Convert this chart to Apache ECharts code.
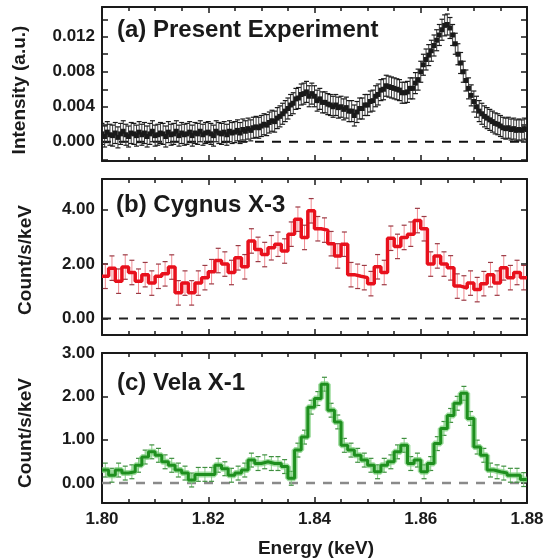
<!DOCTYPE html>
<html>
<head>
<meta charset="utf-8">
<script src="https://cdn.jsdelivr.net/npm/echarts@6/dist/echarts.min.js"></script>
<style>
html, body { margin: 0; padding: 0; background: #fff; }
#chart { width: 548px; height: 560px; }
</style>
</head>
<body>
<div id="chart"></div>
<script>
// energy range shared by the three panels (keV)
var energyMin = 1.80
var energyMax = 1.88
var energyStepA = 0.0005
var binWidth = 0.00125

// (a) present experiment, intensity (a.u.) every 0.5 eV from 1.800 keV
var intensityA = [
  0.0009, 0.0006, 0.0011, 0.0008, 0.0007, 0.0010, 0.0005, 0.0009, 0.0012, 0.0008,
  0.0006, 0.0010, 0.0009, 0.0007, 0.0011, 0.0008, 0.0010, 0.0006, 0.0009, 0.0012,
  0.0007, 0.0008, 0.0010, 0.0009, 0.0006, 0.0011, 0.0008, 0.0009, 0.0012, 0.0007,
  0.0010, 0.0008, 0.0009, 0.0011, 0.0007, 0.0010, 0.0009, 0.0012, 0.0008, 0.0010,
  0.0011, 0.0009, 0.0007, 0.0012, 0.0010, 0.0009, 0.0011, 0.0008, 0.0012, 0.0010,
  0.0011, 0.0013, 0.0010, 0.0014, 0.0012, 0.0015, 0.0013, 0.0016, 0.0017, 0.0016,
  0.0018, 0.0020, 0.0019, 0.0022, 0.0024, 0.0023, 0.0027, 0.0029, 0.0032, 0.0035,
  0.0038, 0.0042, 0.0044, 0.0049, 0.0050, 0.0054, 0.0055, 0.0057, 0.0052, 0.0055,
  0.0052, 0.0047, 0.0049, 0.0045, 0.0045, 0.0043, 0.0042, 0.0040, 0.0042, 0.0039,
  0.0040, 0.0037, 0.0039, 0.0035, 0.0035, 0.0030, 0.0034, 0.0038, 0.0038, 0.0042,
  0.0042, 0.0046, 0.0047, 0.0052, 0.0054, 0.0059, 0.0060, 0.0064, 0.0063, 0.0062,
  0.0061, 0.0060, 0.0059, 0.0056, 0.0056, 0.0057, 0.0061, 0.0061, 0.0067, 0.0071,
  0.0080, 0.0088, 0.0094, 0.0099, 0.0104, 0.0110, 0.0116, 0.0122, 0.0128, 0.0133,
  0.0134, 0.0130, 0.0122, 0.0112, 0.0100, 0.0090, 0.0080, 0.0070, 0.0061, 0.0053,
  0.0046, 0.0040, 0.0035, 0.0032, 0.0029, 0.0027, 0.0025, 0.0023, 0.0021, 0.0020,
  0.0018, 0.0016, 0.0015, 0.0016, 0.0014, 0.0015, 0.0013, 0.0014, 0.0013, 0.0015,
  0.0014
]
var errA = 0.0012

// (b) Cygnus X-3, counts/s/keV per bin
var cygnus = [
  1.55, 1.85, 1.37, 1.89, 1.69, 1.37, 1.61, 1.30, 1.55, 1.64, 1.89, 0.94, 1.30, 0.94, 1.30, 1.50,
  1.72, 2.13, 2.00, 1.69, 2.23, 1.90, 2.85, 2.54, 2.35, 2.60, 2.73, 2.48, 3.10, 3.65, 2.98, 3.96,
  3.30, 3.25, 2.75, 2.30, 2.73, 1.61, 1.55, 1.50, 1.28, 1.90, 1.69, 2.95, 2.65, 2.98, 3.10, 3.60,
  3.30, 2.00, 2.30, 2.00, 1.86, 1.19, 1.12, 1.30, 1.06, 1.28, 1.61, 1.30, 1.86, 1.50, 1.69, 1.50
]
var errB = 0.45

// (c) Vela X-1, counts/s/keV per bin
var vela = [
  0.30, 0.18, 0.30, 0.23, 0.26, 0.41, 0.60, 0.72, 0.64, 0.49, 0.41, 0.30, 0.23, 0.07, 0.20, 0.20,
  0.20, 0.41, 0.33, 0.18, 0.23, 0.30, 0.53, 0.45, 0.49, 0.45, 0.45, 0.38, 0.11, 0.76, 1.06, 1.75,
  1.95, 2.28, 1.68, 1.41, 0.87, 0.76, 0.64, 0.53, 0.41, 0.26, 0.41, 0.49, 0.72, 0.87, 0.45, 0.53,
  0.26, 0.45, 0.91, 1.26, 1.56, 1.84, 2.07, 1.49, 0.83, 0.64, 0.30, 0.26, 0.23, 0.18, 0.18, 0.08
]
var errC = 0.16

var yLabelsA = ['0.000', '0.004', '0.008', '0.012']
var yLabelsB = ['0.00', '2.00', '4.00']
var yLabelsC = ['0.00', '1.00', '2.00', '3.00']

var font = 'Liberation Sans, Arial, Helvetica, sans-serif'

var pointsA = intensityA.map(function (v, i) {
  return [energyMin + i * energyStepA, v]
})
function binCenters(vals) {
  return vals.map(function (v, i) {
    return [energyMin + (i + 0.5) * binWidth, v]
  })
}
function binSteps(vals) {
  var d = vals.map(function (v, i) {
    return [energyMin + i * binWidth, v]
  })
  d.push([energyMax, vals[vals.length - 1]])
  return d
}
function onList(list, digits) {
  return function (v) {
    var s = v.toFixed(digits)
    return list.indexOf(s) >= 0 && Math.abs(parseFloat(s) - v) < 1e-9 ? s : ''
  }
}

function errorBars(err, barColor, capColor, dot) {
  return function (params, api) {
    var x = api.value(0)
    var y = api.value(1)
    var hi = api.coord([x, y + err])
    var lo = api.coord([x, y - err])
    var c = api.coord([x, y])
    var cap = 2.5
    var kids = [
      { type: 'line', shape: { x1: hi[0], y1: hi[1], x2: lo[0], y2: lo[1] }, style: { stroke: barColor, lineWidth: 1 } },
      { type: 'line', shape: { x1: hi[0] - cap, y1: hi[1], x2: hi[0] + cap, y2: hi[1] }, style: { stroke: capColor, lineWidth: 1.2 } },
      { type: 'line', shape: { x1: lo[0] - cap, y1: lo[1], x2: lo[0] + cap, y2: lo[1] }, style: { stroke: capColor, lineWidth: 1.2 } }
    ]
    if (dot) {
      kids.push({ type: 'rect', shape: { x: c[0] - 2.5, y: c[1] - 2.5, width: 5, height: 5 }, style: { fill: dot } })
    }
    return { type: 'group', children: kids }
  }
}

var grids = [
  { left: 102, right: 21, top: 7, height: 154 },
  { left: 102, right: 21, top: 179, height: 156 },
  { left: 102, right: 21, top: 353, height: 150 }
]

var frame = { onZero: false, lineStyle: { color: '#1a1a1a', width: 2 } }
var tickStyle = { inside: true, length: 6, lineStyle: { color: '#1a1a1a', width: 1.5 } }
var minorStyle = { show: true, splitNumber: 4, length: 4, lineStyle: { color: '#1a1a1a', width: 1.5 } }
var labelStyle = { color: '#1a1a1a', fontSize: 17, fontWeight: 'bold', fontFamily: font }

var xAxes = []
var yAxes = []
grids.forEach(function (g, i) {
  ;['bottom', 'top'].forEach(function (pos) {
    xAxes.push({
      gridIndex: i,
      type: 'value',
      position: pos,
      min: energyMin,
      max: energyMax,
      interval: 0.02,
      axisLine: frame,
      axisTick: tickStyle,
      minorTick: minorStyle,
      splitLine: { show: false },
      axisLabel: i === 2 && pos === 'bottom'
        ? Object.assign({ margin: 8, formatter: function (v) { return v.toFixed(2) } }, labelStyle)
        : { show: false }
    })
  })
})

var yRanges = [
  { min: -0.0022, max: 0.0154, split: 9, fmt: onList(yLabelsA, 3) },
  { min: -0.61, max: 5.13, split: 3, fmt: onList(yLabelsB, 2) },
  { min: -0.46, max: 3.0, split: 3, fmt: onList(yLabelsC, 2) }
]
yRanges.forEach(function (r, i) {
  ;['left', 'right'].forEach(function (pos) {
    yAxes.push({
      gridIndex: i,
      type: 'value',
      position: pos,
      min: r.min,
      max: r.max,
      splitNumber: r.split,
      axisLine: frame,
      axisTick: tickStyle,
      splitLine: { show: false },
      axisLabel: pos === 'left'
        ? Object.assign({ margin: 7, formatter: r.fmt, showMinLabel: true, showMaxLabel: true }, labelStyle)
        : { show: false }
    })
  })
})

function zeroLine(i, color, width) {
  return {
    type: 'line',
    xAxisIndex: i * 2,
    yAxisIndex: i * 2,
    data: [[energyMin, 0], [energyMax, 0]],
    symbol: 'none',
    silent: true,
    z: 1,
    lineStyle: { color: color, width: width, type: [9, 8] }
  }
}

var series = [
  zeroLine(0, '#111', 2),
  {
    type: 'custom',
    xAxisIndex: 0,
    yAxisIndex: 0,
    data: pointsA,
    encode: { x: 0, y: 1 },
    clip: true,
    z: 3,
    renderItem: errorBars(errA, '#3a3a3a', '#1a1a1a', '#1a1a1a')
  },
  zeroLine(1, '#222', 2),
  {
    type: 'custom',
    xAxisIndex: 2,
    yAxisIndex: 2,
    data: binCenters(cygnus),
    encode: { x: 0, y: 1 },
    clip: true,
    z: 2,
    renderItem: errorBars(errB, 'rgba(236,100,110,0.75)', '#9a3a44', null)
  },
  {
    type: 'line',
    xAxisIndex: 2,
    yAxisIndex: 2,
    step: 'end',
    data: binSteps(cygnus),
    symbol: 'none',
    z: 4,
    lineStyle: { color: '#e8101c', width: 3.5 }
  },
  zeroLine(2, '#8a8a8a', 2.5),
  {
    type: 'custom',
    xAxisIndex: 4,
    yAxisIndex: 4,
    data: binCenters(vela),
    encode: { x: 0, y: 1 },
    clip: true,
    z: 2,
    renderItem: errorBars(errC, '#86cc86', '#3f8f3f', null)
  },
  {
    type: 'line',
    xAxisIndex: 4,
    yAxisIndex: 4,
    step: 'end',
    data: binSteps(vela),
    symbol: 'none',
    z: 3,
    lineStyle: { color: 'rgba(120,205,120,0.7)', width: 6 }
  },
  {
    type: 'line',
    xAxisIndex: 4,
    yAxisIndex: 4,
    step: 'end',
    data: binSteps(vela),
    symbol: 'none',
    z: 4,
    lineStyle: { color: '#1e8f1e', width: 3 }
  }
]

function text(str, x, y, size, rotate) {
  return {
    type: 'text',
    x: x,
    y: y,
    rotation: rotate ? Math.PI / 2 : 0,
    style: {
      text: str,
      fill: '#1a1a1a',
      font: 'bold ' + size + 'px ' + font,
      align: rotate ? 'center' : 'left',
      verticalAlign: 'middle'
    }
  }
}

var chart = echarts.init(document.getElementById('chart'))
chart.setOption({
  animation: false,
  backgroundColor: '#fff',
  grid: grids,
  xAxis: xAxes,
  yAxis: yAxes,
  series: series,
  graphic: [
    text('(a) Present Experiment', 117, 30, 24),
    text('(b) Cygnus X-3', 116, 205, 24),
    text('(c) Vela X-1', 117, 383, 24),
    text('Intensity (a.u.)', 20, 90, 19, true),
    text('Count/s/keV', 26, 260, 19, true),
    text('Count/s/keV', 26, 433, 19, true),
    {
      type: 'text',
      x: 316,
      y: 549,
      style: { text: 'Energy (keV)', fill: '#1a1a1a', font: 'bold 19px ' + font, align: 'center', verticalAlign: 'middle' }
    }
  ]
})
</script>
</body>
</html>
